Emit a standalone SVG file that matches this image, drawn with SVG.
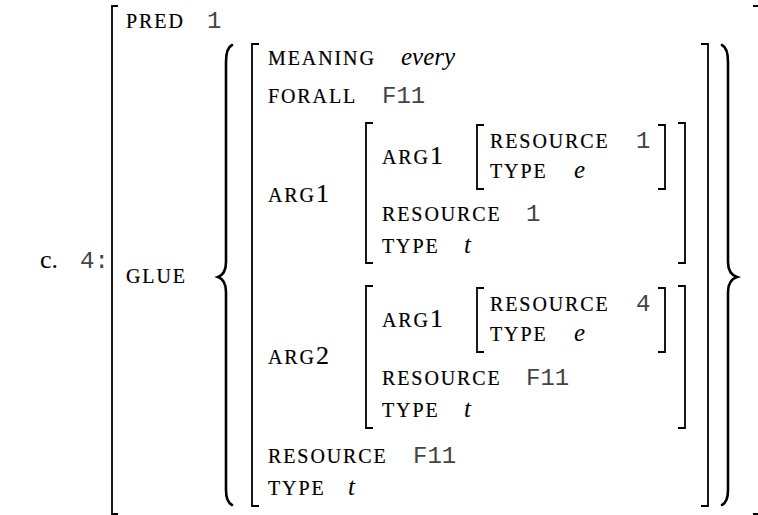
<svg xmlns="http://www.w3.org/2000/svg" width="758" height="515" viewBox="0 0 758 515">
<style>
.lab{font-family:"Liberation Serif",serif;font-size:20px;letter-spacing:1.9px;fill:#000;stroke:#000;stroke-width:0.2}
.dig{font-size:26px;letter-spacing:0}
.mono{font-family:"Liberation Mono",monospace;font-size:24px;fill:#444}
.it{font-family:"Liberation Serif",serif;font-style:italic;font-size:25px;fill:#000}
.rm{font-family:"Liberation Serif",serif;font-size:26px;fill:#000}
.br{fill:none;stroke:#000;stroke-width:1.8}
.brace{fill:none;stroke:#000;stroke-width:2.6;stroke-linecap:round}
</style>
<rect width="758" height="515" fill="#fff"/>
<g id="example-label">
<text class="rm" x="40" y="268">c.</text>
<text class="mono" x="80" y="268">4:</text>
</g>
<g id="outer-avm">
<path class="br" d="M118,6 H112 V514 H118"/>
<path class="br" d="M753,6 H759 V514 H753"/>
<text class="lab" x="126" y="28">PRED</text>
<text class="mono" x="207" y="28">1</text>
<text class="lab" x="126" y="283">GLUE</text>
</g>
<g id="glue-set">
<path class="brace" d="M232,45 Q226,48 226,62 L226,262 Q226,274 218,277 Q226,280 226,292 L226,490 Q226,502 232,505"/>
<path class="brace" d="M722,45 Q728,48 728,62 L728,262 Q728,274 737,277 Q728,280 728,292 L728,490 Q728,502 722,505"/>
</g>
<g id="meaning-avm">
<path class="br" d="M259,44 H252 V506 H259"/>
<path class="br" d="M701,44 H708 V506 H701"/>
<text class="lab" x="268" y="65">MEANING</text>
<text class="it" x="401" y="65">every</text>
<text class="lab" x="268" y="103">FORALL</text>
<text class="mono" x="382" y="103">F11</text>
<text class="lab" x="268" y="202">ARG<tspan class="dig">1</tspan></text>
<text class="lab" x="268" y="364">ARG<tspan class="dig">2</tspan></text>
<text class="lab" x="268" y="463">RESOURCE</text>
<text class="mono" x="413" y="463">F11</text>
<text class="lab" x="268" y="495">TYPE</text>
<text class="it" x="348" y="495">t</text>
</g>
<g id="arg1-avm">
<path class="br" d="M373,123 H366 V263 H373"/>
<path class="br" d="M678,123 H685 V263 H678"/>
<text class="lab" x="382" y="164">ARG<tspan class="dig">1</tspan></text>
<text class="lab" x="382" y="221">RESOURCE</text>
<text class="mono" x="526" y="221">1</text>
<text class="lab" x="382" y="253">TYPE</text>
<text class="it" x="464" y="253">t</text>
</g>
<g id="arg1-arg1-avm">
<path class="br" d="M484,125 H477 V189 H484"/>
<path class="br" d="M658,125 H665 V189 H658"/>
<text class="lab" x="490" y="148">RESOURCE</text>
<text class="mono" x="636" y="148">1</text>
<text class="lab" x="490" y="178">TYPE</text>
<text class="it" x="574" y="178">e</text>
</g>
<g id="arg2-avm">
<path class="br" d="M373,286 H366 V428 H373"/>
<path class="br" d="M678,286 H685 V428 H678"/>
<text class="lab" x="382" y="327">ARG<tspan class="dig">1</tspan></text>
<text class="lab" x="382" y="385">RESOURCE</text>
<text class="mono" x="526" y="385">F11</text>
<text class="lab" x="382" y="417">TYPE</text>
<text class="it" x="464" y="417">t</text>
</g>
<g id="arg2-arg1-avm">
<path class="br" d="M484,288 H477 V352 H484"/>
<path class="br" d="M658,288 H665 V352 H658"/>
<text class="lab" x="490" y="311">RESOURCE</text>
<text class="mono" x="636" y="311">4</text>
<text class="lab" x="490" y="341">TYPE</text>
<text class="it" x="574" y="341">e</text>
</g>
</svg>
